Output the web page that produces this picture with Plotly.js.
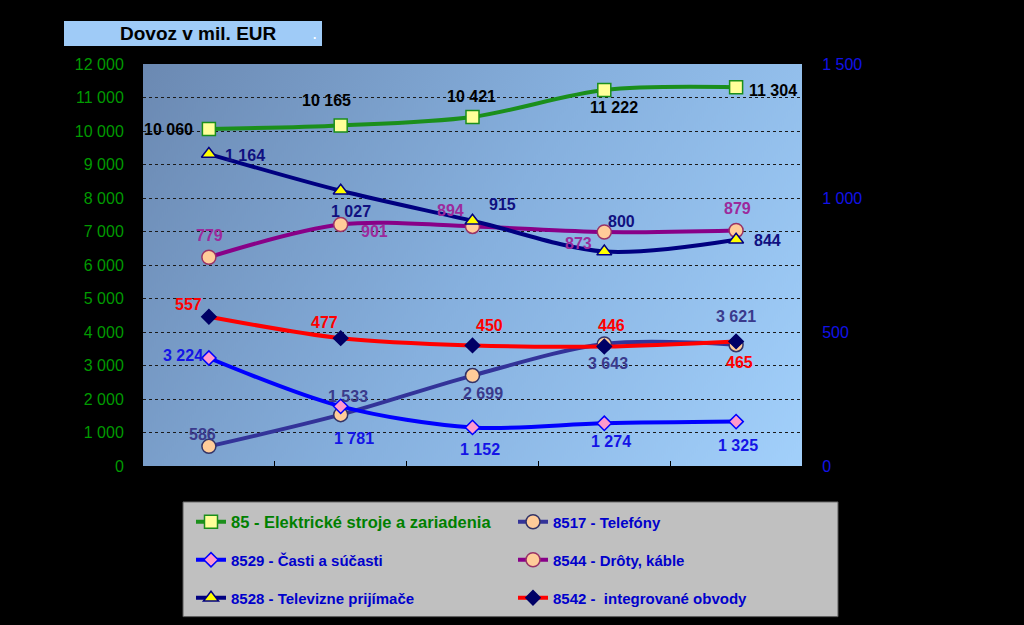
<!DOCTYPE html>
<html>
<head>
<meta charset="utf-8">
<script src="https://cdn.plot.ly/plotly-3.0.1.min.js"></script>
<style>
  html, body { margin: 0; padding: 0; background: #000; }
  #chart { width: 1024px; height: 625px; }
</style>
</head>
<body>
<div id="chart"></div>
<script>
// ---- DATA ----
const chartTitle = 'Dovoz v mil. EUR';
const seriesNames = [
  '85 - Elektrické stroje a zariadenia',
  '8517 - Telefóny',
  '8529 - Časti a súčasti',
  '8544 - Drôty, káble',
  '8528 - Televizne prijímače',
  '8542 -  integrované obvody'
];
const elektrickeStroje = [10060, 10165, 10421, 11222, 11304];   // left axis
const telefony         = [586, 1533, 2699, 3643, 3621];         // left axis
const castiASucasti    = [3224, 1781, 1152, 1274, 1325];        // left axis
const drotyKable       = [779, 901, 894, 873, 879];             // right axis
const televizne        = [1164, 1027, 915, 800, 844];           // right axis
const integrovane      = [557, 477, 450, 446, 465];             // right axis
const leftTicks  = [0, 1000, 2000, 3000, 4000, 5000, 6000, 7000, 8000, 9000, 10000, 11000, 12000];
const rightTicks = [0, 500, 1000, 1500];

// ---- STYLE ----
const FONT = 'Liberation Sans, Arial, sans-serif';
const styles = [
  {values: elektrickeStroje, axis: 'y',  line: '#1b8f1b', symbol: 'square',      size: 13, fill: '#ffff99', edge: '#1b8f1b', label: '#000000',
   off: [[-40,-1],[-14,25],[-1,20],[10,-17],[37,-3]], legend: 'legend',  lfont: {size: 16.5, color: '#008000'}},
  {values: telefony,         axis: 'y',  line: '#333399', symbol: 'circle',      size: 14, fill: '#ffcc99', edge: '#333366', label: '#3a3a8c',
   off: [[-6,12],[7,18],[10,-18],[4,-20],[0,28]], legend: 'legend2', lfont: {size: 15, color: '#0000cc'}},
  {values: castiASucasti,    axis: 'y',  line: '#0000ff', symbol: 'diamond',     size: 11, fill: '#ff99cc', edge: '#0000ff', label: '#1414e6',
   off: [[-26,3],[13,-32],[7,-22],[7,-18],[2,-24]], legend: 'legend3', lfont: {size: 15, color: '#0000cc'}},
  {values: drotyKable,       axis: 'y2', line: '#880088', symbol: 'circle',      size: 14, fill: '#ffcc99', edge: '#993366', label: '#9c2a9c',
   off: [[1,22],[34,-7],[-22,16],[-26,-11],[1,22]], legend: 'legend4', lfont: {size: 15, color: '#0000cc'}},
  {values: televizne,        axis: 'y2', line: '#000080', symbol: 'triangle-up', size: 13, fill: '#ffff00', edge: '#000080', label: '#101080',
   off: [[36,-1],[10,-21],[30,16],[17,30],[31,-1]], legend: 'legend5', lfont: {size: 15, color: '#0000cc'}},
  {values: integrovane,      axis: 'y2', line: '#ff0000', symbol: 'diamond',     size: 11, fill: '#000066', edge: '#000066', label: '#ff0000',
   off: [[-20,12],[-16,16],[17,20],[7,21],[3,-21]], legend: 'legend6', lfont: {size: 15, color: '#0000cc'}}
];

function fmt(v) { return String(v).replace(/\B(?=(\d{3})+(?!\d))/g, ' '); }

// gradient plot background as an image
const plotL = 143, plotR = 802, plotT = 64, plotB = 467;
const pw = plotR - plotL, ph = plotB - plotT;
const cv = document.createElement('canvas');
cv.width = pw; cv.height = ph;
const ctx = cv.getContext('2d');
const g = ctx.createLinearGradient(0, 0, pw, ph);
g.addColorStop(0, '#6b89b2');
g.addColorStop(0.5, '#86b0de');
g.addColorStop(1, '#a2d0fb');
ctx.fillStyle = g;
ctx.fillRect(0, 0, pw, ph);
const bgURL = cv.toDataURL('image/png');

function px2x(px) { return (px - plotL) / pw; }
function px2y(py) { return (plotB - py) / ph; }

const traces = [];
const annotations = [];
styles.forEach((s, i) => {
  const xs = s.values.map((_, k) => k);
  traces.push({
    type: 'scatter', mode: 'lines+markers',
    name: seriesNames[i],
    x: xs, y: s.values, yaxis: s.axis,
    line: {color: s.line, width: 4, shape: 'spline', smoothing: 0.9},
    marker: {symbol: s.symbol, size: s.size, color: s.fill, line: {color: s.edge, width: 1.5}},
    legend: s.legend,
    hoverinfo: 'skip'
  });
  s.values.forEach((v, k) => {
    annotations.push({
      x: k, y: v, xref: 'x', yref: s.axis,
      xanchor: 'center', yanchor: 'middle',
      text: fmt(v), showarrow: false,
      xshift: s.off[k][0], yshift: s.off[k][1],
      font: {family: FONT, size: 16, color: s.label, weight: 'bold'}
    });
  });
});

// title text and small dot
annotations.push({
  xref: 'paper', yref: 'paper', x: px2x(198), y: px2y(33),
  xanchor: 'center', yanchor: 'middle',
  text: chartTitle, showarrow: false,
  font: {family: FONT, size: 19, color: '#000000', weight: 'bold'}
});
annotations.push({
  xref: 'paper', yref: 'paper', x: px2x(314), y: px2y(35),
  xanchor: 'center', yanchor: 'middle',
  text: '.', showarrow: false,
  font: {family: FONT, size: 12, color: '#ffffff', weight: 'bold'}
});

const legendCommon = {bgcolor: 'rgba(0,0,0,0)', borderwidth: 0, xanchor: 'left', yanchor: 'middle', orientation: 'v'};
const legendPos = [[191, 522], [513, 522], [191, 560], [513, 560], [191, 598], [513, 598]];

const layout = {
  width: 1024, height: 625,
  margin: {l: plotL, r: 1024 - plotR, t: plotT, b: 625 - plotB, pad: 0},
  paper_bgcolor: '#000000',
  plot_bgcolor: 'rgba(0,0,0,0)',
  separators: ', ',
  font: {family: FONT},
  xaxis: {
    range: [-0.5, 4.5], tickvals: [0.5, 1.5, 2.5, 3.5], ticks: 'inside', ticklen: 5, tickwidth: 1, tickcolor: '#000',
    showticklabels: false, showgrid: false, zeroline: false,
    showline: true, linecolor: '#000', linewidth: 2, mirror: true, fixedrange: true
  },
  yaxis: {
    range: [0, 12000], tickvals: leftTicks, tickformat: ',d',
    tickfont: {family: FONT, size: 16, color: '#009a00'},
    ticks: '', ticklabelstandoff: 14,
    showgrid: true, gridcolor: '#1a1a1a', griddash: 'dot', gridwidth: 1,
    zeroline: false, showline: true, linecolor: '#000', linewidth: 2, mirror: true, fixedrange: true
  },
  yaxis2: {
    range: [0, 1500], tickvals: rightTicks, tickformat: ',d', overlaying: 'y', side: 'right',
    tickfont: {family: FONT, size: 16, color: '#1212e8'},
    ticks: '', ticklabelstandoff: 15,
    showgrid: false, zeroline: false, showline: true, linecolor: '#000', linewidth: 2, fixedrange: true
  },
  images: [{
    source: bgURL, xref: 'paper', yref: 'paper', x: 0, y: 1, sizex: 1, sizey: 1,
    xanchor: 'left', yanchor: 'top', sizing: 'stretch', layer: 'below'
  }],
  shapes: [
    {type: 'rect', xref: 'paper', yref: 'paper', x0: px2x(64), x1: px2x(322), y0: px2y(46), y1: px2y(21),
     fillcolor: '#9fcbf7', line: {width: 0}, layer: 'below'},
    {type: 'rect', xref: 'paper', yref: 'paper', x0: px2x(183), x1: px2x(838), y0: px2y(618), y1: px2y(503),
     fillcolor: '#c0c0c0', line: {color: '#5a5a5a', width: 1}, layer: 'below'}
  ],
  annotations: annotations,
  showlegend: true
};
styles.forEach((s, i) => {
  layout[s.legend] = Object.assign({}, legendCommon, {
    x: px2x(legendPos[i][0]), y: px2y(legendPos[i][1]),
    font: {family: FONT, size: s.lfont.size, color: s.lfont.color, weight: 'bold'}
  });
});

Plotly.newPlot('chart', traces, layout, {displayModeBar: false, staticPlot: true});
</script>
</body>
</html>
